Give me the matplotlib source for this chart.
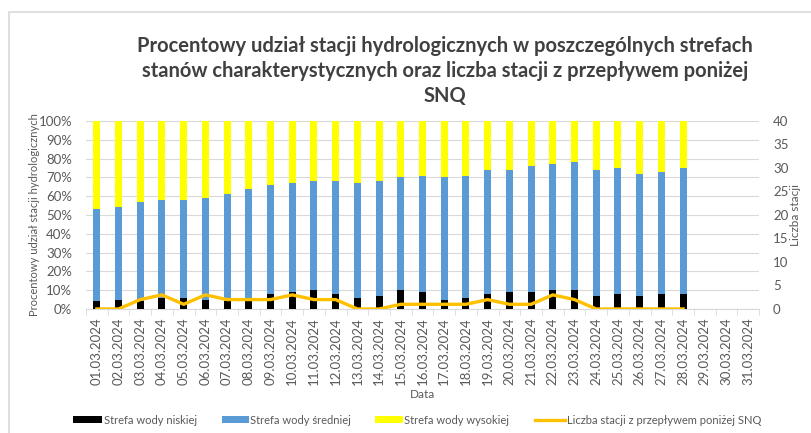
import matplotlib
matplotlib.use('Agg')
import matplotlib.pyplot as plt
import numpy as np
from matplotlib.ticker import FixedLocator, PercentFormatter
from matplotlib.patches import Rectangle

plt.rcParams['font.family'] = ['Lato', 'DejaVu Sans']

# dates on the x axis (whole month, data only up to 28.03)
dates = ['%02d.03.2024' % d for d in range(1, 32)]

# percentage share of stations in each zone
low_pct = [4, 5, 4, 6, 6, 5, 4, 4, 8, 9,
           10, 8, 6, 7, 10, 9, 5, 6, 8, 9,
           9, 10, 10, 7, 8, 7, 8, 8]
mid_top_pct = [53, 54, 57, 58, 58, 59, 61, 64, 66, 67,
               68, 68, 67, 68, 70, 71, 70, 71, 74, 74,
               76, 77, 78, 74, 75, 72, 73, 75]
# number of stations with flow below SNQ
snq_count = [0, 0, 2, 3, 1, 3, 2, 2, 2, 3,
             2, 2, 0, 0, 1, 1, 1, 1, 2, 1,
             1, 3, 2, 0, 0, 0, 0, 0]

low = np.array(low_pct)
mid = np.array(mid_top_pct) - low
high = 100 - np.array(mid_top_pct)

c_text = '#595959'
c_grid = '#D9D9D9'

fig = plt.figure(figsize=(8.11, 4.33), dpi=100)
ax = fig.add_axes([0.106, 0.2864, 0.830, 0.4342])
ax2 = ax.twinx()

x = np.arange(len(low))
bw = 0.32
b1 = ax.bar(x, low, bw, color='#000000', label='Strefa wody niskiej', zorder=3)
b2 = ax.bar(x, mid, bw, bottom=low, color='#5B9BD5', label='Strefa wody średniej', zorder=3)
b3 = ax.bar(x, high, bw, bottom=low + mid, color='#FFFF00', label='Strefa wody wysokiej', zorder=3)
l1, = ax2.plot(x, snq_count, color='#FFC000', lw=2.4, solid_joinstyle='round',
               label='Liczba stacji z przepływem poniżej SNQ', zorder=4)

ax.set_xlim(-0.5, len(dates) - 0.5)
ax.set_ylim(0, 100)
ax2.set_ylim(0, 40)
ax.set_yticks(np.arange(0, 101, 10))
ax.yaxis.set_major_formatter(PercentFormatter(decimals=0))
ax2.set_yticks(np.arange(0, 41, 5))

ax.set_xticks(np.arange(len(dates)))
ax.set_xticklabels(dates, rotation=90)
ax.xaxis.set_minor_locator(FixedLocator(np.arange(-0.5, len(dates), 1)))
ax.tick_params(axis='x', which='major', length=0, pad=6)
ax.tick_params(axis='x', which='minor', length=4, color=c_grid)
ax.tick_params(axis='both', labelsize=9.5, labelcolor=c_text)
ax.tick_params(axis='y', length=0, pad=10)
ax2.tick_params(axis='y', length=0, labelsize=9.5, labelcolor=c_text, pad=10)

ax.grid(axis='y', color=c_grid, lw=0.8, zorder=0)
ax.set_axisbelow(True)
for s in ['top', 'left', 'right']:
    ax.spines[s].set_visible(False)
    ax2.spines[s].set_visible(False)
ax2.spines['bottom'].set_visible(False)
ax.spines['bottom'].set_color(c_grid)

ax.set_ylabel('Procentowy udział stacji hydrologicznych', fontsize=8, color=c_text, labelpad=-1)
ax2.set_ylabel('Liczba stacji', fontsize=8.5, color=c_text, rotation=90, labelpad=1)
ax.set_xlabel('Data', fontsize=8.5, color=c_text, labelpad=3)

fig.text(0.549, 0.836,
         'Procentowy udział stacji hydrologicznych w poszczególnych strefach\n'
         'stanów charakterystycznych oraz liczba stacji z przepływem poniżej\nSNQ',
         ha='center', va='center', fontsize=14.5, fontweight='bold', color='#404040',
         linespacing=1.3)

# legend entries placed one by one, as in the original layout
handles = [b1, b2, b3, l1]
labels = ['Strefa wody niskiej', 'Strefa wody średniej', 'Strefa wody wysokiej',
          'Liczba stacji z przepływem poniżej SNQ']
leg_x = [73, 222, 375, 535]
leg_len = [2.6, 2.4, 2.5, 2.7]
for h, lab, lx, hl in zip(handles, labels, leg_x, leg_len):
    fig.legend([h], [lab], loc='center left', bbox_to_anchor=(lx / 811, 0.03),
               frameon=False, borderpad=0, borderaxespad=0, fontsize=8,
               labelcolor=c_text, handlelength=hl, handleheight=0.5,
               handletextpad=0.15)

fig.patches.append(Rectangle((0.011, -0.05), 1.1, 1.0223, transform=fig.transFigure,
                             fill=False, edgecolor='#D9D9D9', lw=1.2))

fig.savefig('out.png', dpi=100)
